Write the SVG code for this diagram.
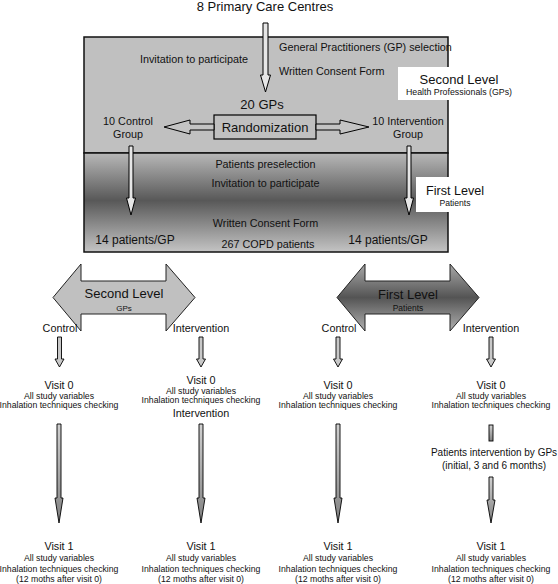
<svg xmlns="http://www.w3.org/2000/svg" width="558" height="584" viewBox="0 0 558 584">
<defs>
<linearGradient id="gLow" x1="0" y1="0" x2="0" y2="1">
<stop offset="0" stop-color="#b8b8b8"/>
<stop offset="0.48" stop-color="#585858"/>
<stop offset="1" stop-color="#c4c4c4"/>
</linearGradient>
<linearGradient id="gArrow" x1="0" y1="0" x2="0" y2="1">
<stop offset="0" stop-color="#a8a8a8"/>
<stop offset="0.5" stop-color="#545454"/>
<stop offset="1" stop-color="#b0b0b0"/>
</linearGradient>
<linearGradient id="gHead" x1="0" y1="0" x2="0" y2="1">
<stop offset="0" stop-color="#d0d0d0"/>
<stop offset="1" stop-color="#808080"/>
</linearGradient>
</defs>
<style>
text{font-family:"Liberation Sans",Arial,sans-serif;fill:#111;text-anchor:middle}
.m{font-size:10.8px}
.s{font-size:8.7px}
.l{font-size:13px}
.st{text-anchor:start}
.ar{fill:#e6e6e6;stroke:#000;stroke-width:1}
.sm{fill:#c8c8c8;stroke:#000;stroke-width:0.9}
.lg{fill:url(#gHead);stroke:#000;stroke-width:0.9}
</style>
<rect width="558" height="584" fill="#fff"/>

<g id="study-box">
<rect x="84" y="37" width="364" height="116" fill="#c0c0c0" stroke="#111" stroke-width="1.5"/>
<rect x="84" y="153" width="364" height="99" fill="url(#gLow)" stroke="#111" stroke-width="1.5"/>
</g>

<g id="title"><text class="l" x="265" y="11">8 Primary Care Centres</text></g>

<g id="gp-selection">
<text class="m st" x="279" y="51">General Practitioners (GP) selection</text>
<text class="m" x="194" y="63">Invitation to participate</text>
<text class="m st" x="279" y="75">Written Consent Form</text>
</g>

<g id="second-level-label">
<rect x="398" y="67" width="122" height="33" fill="#fff"/>
<text class="l" x="459" y="84">Second Level</text>
<text style="font-size:8.8px" x="459" y="95">Health Professionals (GPs)</text>
</g>

<g id="gps20"><text class="l" x="262" y="109">20 GPs</text></g>

<g id="control-group">
<text class="m" x="128" y="125">10 Control</text>
<text class="m" x="128" y="138">Group</text>
</g>

<g id="intervention-group">
<text class="m" x="408" y="125">10 Intervention</text>
<text class="m" x="408" y="138">Group</text>
</g>

<g id="randomization">
<rect x="214" y="115" width="102" height="24" fill="#c0c0c0" stroke="#000" stroke-width="1.2"/>
<text class="l" x="265" y="131.5">Randomization</text>
</g>

<g id="patients-selection">
<text class="m" x="265.5" y="168">Patients preselection</text>
<text class="m" x="265.5" y="187">Invitation to participate</text>
<text class="m" x="265.5" y="227">Written Consent Form</text>
<text style="font-size:12px" x="135" y="244">14 patients/GP</text>
<text style="font-size:12px" x="388" y="244">14 patients/GP</text>
<text class="m" x="268" y="248">267 COPD patients</text>
</g>

<g id="first-level-label">
<rect x="416" y="177" width="78" height="35" fill="#fff"/>
<text style="font-size:12.6px" x="455" y="195">First Level</text>
<text style="font-size:8.6px" x="455" y="206">Patients</text>
</g>

<g id="second-level-arrow">
<polygon points="53,297.5 81,264 81,281 166,281 166,264 195,297.5 166,331 166,314 81,314 81,331" fill="#c0c0c0" stroke="#222" stroke-width="1"/>
<text class="l" x="124" y="298">Second Level</text>
<text style="font-size:8px" x="124" y="311">GPs</text>
</g>

<g id="first-level-arrow">
<polygon points="337,297.5 365,264 365,281 450,281 450,264 479,297.5 450,331 450,314 365,314 365,331" fill="url(#gArrow)" stroke="#222" stroke-width="1"/>
<text class="l" x="408" y="299">First Level</text>
<text style="font-size:8.5px" x="408" y="311">Patients</text>
</g>

<g id="arm-labels">
<text class="m" x="60" y="332">Control</text>
<text class="m" x="201" y="332">Intervention</text>
<text class="m" x="339" y="332">Control</text>
<text class="m" x="491" y="332">Intervention</text>
</g>

<g id="visit0-c1">
<text class="m" x="59" y="389">Visit 0</text>
<text class="s" x="59" y="398.5">All study variables</text>
<text class="s" x="59" y="408">Inhalation techniques checking</text>
</g>
<g id="visit0-c2">
<text class="m" x="201" y="384">Visit 0</text>
<text class="s" x="201" y="393.5">All study variables</text>
<text class="s" x="201" y="403">Inhalation techniques checking</text>
<text class="m" x="201" y="417">Intervention</text>
</g>
<g id="visit0-c3">
<text class="m" x="338" y="389">Visit 0</text>
<text class="s" x="338" y="398.5">All study variables</text>
<text class="s" x="338" y="408">Inhalation techniques checking</text>
</g>
<g id="visit0-c4">
<text class="m" x="491" y="389">Visit 0</text>
<text class="s" x="491" y="398.5">All study variables</text>
<text class="s" x="491" y="408">Inhalation techniques checking</text>
</g>

<g id="gp-intervention">
<text style="font-size:10px" x="494" y="456">Patients intervention by GPs</text>
<text style="font-size:10px" x="494" y="469">(initial, 3 and 6 months)</text>
</g>

<g id="visit1-c1">
<text class="m" x="59" y="550">Visit 1</text>
<text class="s" x="59" y="561">All study variables</text>
<text class="s" x="59" y="572">Inhalation techniques checking</text>
<text class="s" x="59" y="582">(12 moths after visit 0)</text>
</g>
<g id="visit1-c2">
<text class="m" x="201" y="550">Visit 1</text>
<text class="s" x="201" y="561">All study variables</text>
<text class="s" x="201" y="572">Inhalation techniques checking</text>
<text class="s" x="201" y="582">(12 moths after visit 0)</text>
</g>
<g id="visit1-c3">
<text class="m" x="338" y="550">Visit 1</text>
<text class="s" x="338" y="561">All study variables</text>
<text class="s" x="338" y="572">Inhalation techniques checking</text>
<text class="s" x="338" y="582">(12 moths after visit 0)</text>
</g>
<g id="visit1-c4">
<text class="m" x="491" y="550">Visit 1</text>
<text class="s" x="491" y="561">All study variables</text>
<text class="s" x="491" y="572">Inhalation techniques checking</text>
<text class="s" x="491" y="582">(12 moths after visit 0)</text>
</g>

<g id="connectors">
<polygon class="ar" points="263,23 268,23 268,75 270.5,75 265.5,92 260.5,75 263,75"/>
<polygon class="ar" fill="#c4c4c4" style="fill:#c4c4c4" points="214,124 190,124 190,120 164,127 190,134 190,130 214,130"/>
<polygon class="ar" style="fill:#c4c4c4" points="316,124 340,124 340,120 369,127 340,134 340,130 316,130"/>
<polygon class="ar" points="129,146 133,146 133,198 135.5,198 131,215 126.5,198 129,198"/>
<polygon class="ar" points="407,146 411,146 411,198 413.5,198 409,215 404.5,198 407,198"/>
<polygon class="sm" points="57.5,337 61.5,337 61.5,359 64,359 59.5,367 55,359 57.5,359"/>
<polygon class="sm" points="199,337 203,337 203,359 205.5,359 201,367 196.5,359 199,359"/>
<polygon class="sm" points="336,337 340,337 340,359 342.5,359 338,367 333.5,359 336,359"/>
<polygon class="sm" points="489,337 493,337 493,359 495.5,359 491,367 486.5,359 489,359"/>
<polygon class="lg" points="57,424 61,424 61,498 63,498 59,523 55,498 57,498"/>
<polygon class="lg" points="199,424 203,424 203,498 205,498 201,523 197,498 199,498"/>
<polygon class="lg" points="336,424 340,424 340,498 342,498 338,523 334,498 336,498"/>
<rect class="lg" x="489" y="425" width="4" height="16"/>
<polygon class="lg" points="489,477 493,477 493,500 495,500 491,523 487,500 489,500"/>
</g>
</svg>
